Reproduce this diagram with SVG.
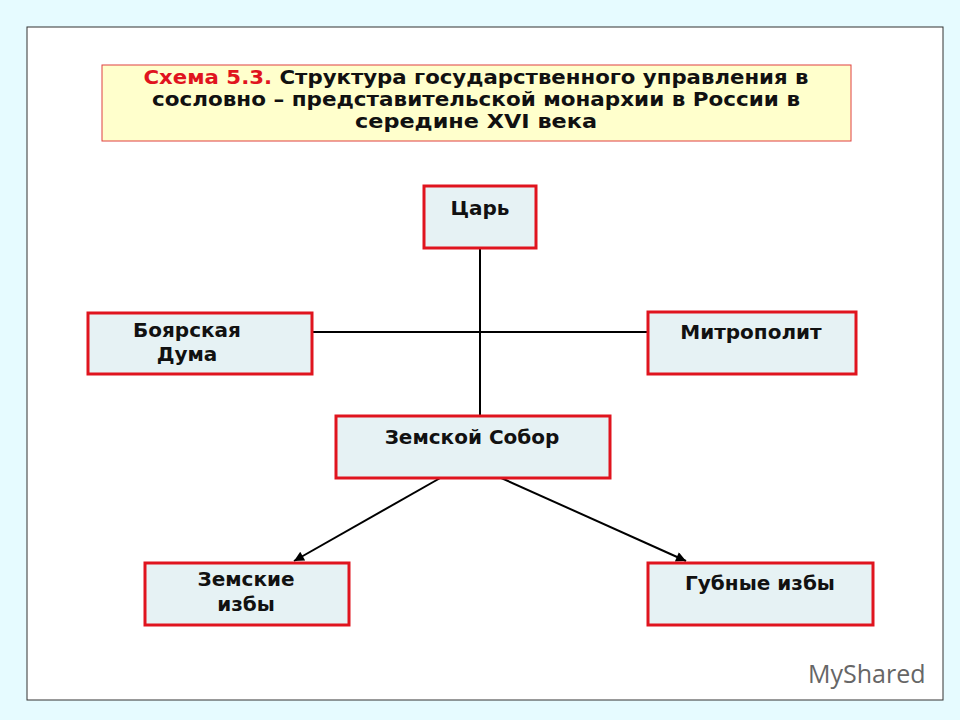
<svg xmlns="http://www.w3.org/2000/svg" width="960" height="720" viewBox="0 0 960 720">
<defs>
<marker id="ah" viewBox="0 0 10 10" refX="10" refY="5" markerWidth="12" markerHeight="10" orient="auto" markerUnits="userSpaceOnUse"><path d="M0,0 L10,5 L0,10 z" fill="#000"/></marker>
<style>
.box{fill:#e6f2f4;stroke:#e0141e;stroke-width:3}
.t{font-family:"DejaVu Sans",Verdana,sans-serif;font-weight:bold;font-size:20px;fill:#111;text-anchor:middle}
.ti{font-family:"DejaVu Sans",Verdana,sans-serif;font-weight:bold;font-size:19px;fill:#111;text-anchor:middle}
.c{stroke:#000;stroke-width:2;fill:none}
</style>
</defs>
<rect width="960" height="720" fill="#e6fbff"/>
<rect x="27" y="27" width="916" height="673" fill="#fff" stroke="#333" stroke-width="1"/>
<g id="title">
<rect x="102" y="65" width="749" height="76" fill="#ffffcc" stroke="#e04040" stroke-width="1"/>
<text class="ti" x="476" y="84" textLength="665" lengthAdjust="spacingAndGlyphs"><tspan fill="#e0141e">Схема 5.3.</tspan> Структура государственного управления в</text>
<text class="ti" x="476" y="106" textLength="648" lengthAdjust="spacingAndGlyphs">сословно – представительской монархии в России в</text>
<text class="ti" x="476" y="128" textLength="242" lengthAdjust="spacingAndGlyphs">середине XVI века</text>
</g>
<g id="connectors">
<line class="c" x1="480" y1="248" x2="480" y2="416"/>
<line class="c" x1="312" y1="332" x2="648" y2="332"/>
<line class="c" x1="442" y1="477" x2="294" y2="561" marker-end="url(#ah)"/>
<line class="c" x1="499" y1="477" x2="686" y2="561" marker-end="url(#ah)"/>
</g>
<g id="tsar"><rect class="box" x="424" y="186" width="112" height="62"/><text class="t" x="480" y="215">Царь</text></g>
<g id="duma"><rect class="box" x="88" y="313" width="224" height="61"/><text class="t" x="187" y="337">Боярская</text><text class="t" x="187" y="361">Дума</text></g>
<g id="metropolit"><rect class="box" x="648" y="312" width="208" height="62"/><text class="t" x="751" y="339">Митрополит</text></g>
<g id="sobor"><rect class="box" x="336" y="416" width="274" height="62"/><text class="t" x="472" y="444">Земской Собор</text></g>
<g id="zemskie"><rect class="box" x="145" y="563" width="204" height="62"/><text class="t" x="246" y="586">Земские</text><text class="t" x="246" y="611">избы</text></g>
<g id="gubnye"><rect class="box" x="648" y="563" width="225" height="62"/><text class="t" x="760" y="590">Губные избы</text></g>
<text x="808" y="683" font-family="'Open Sans',sans-serif" font-size="25" fill="#666">MyShared</text>
</svg>
